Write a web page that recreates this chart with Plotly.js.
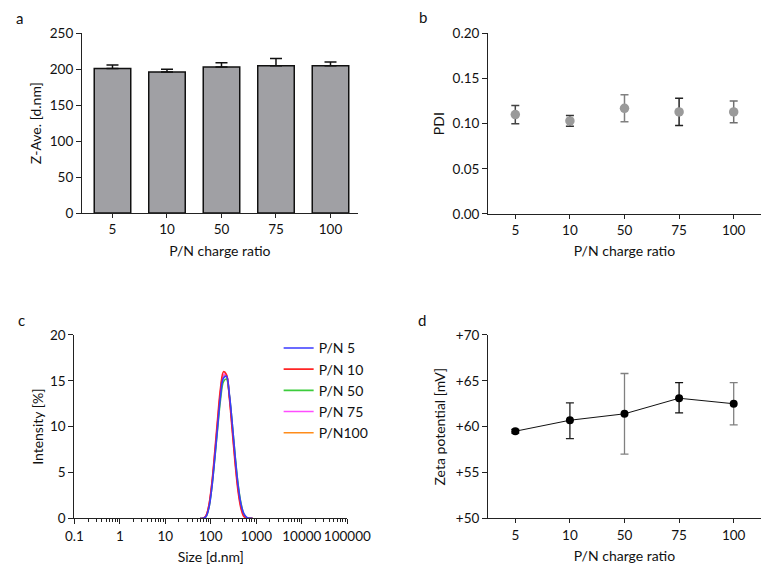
<!DOCTYPE html>
<html>
<head>
<meta charset="utf-8">
<script src="https://cdn.plot.ly/plotly-3.0.1.min.js"></script>
<style>html,body{margin:0;padding:0;background:#fff;}#chart{width:774px;height:574px;}</style>
</head>
<body>
<div id="chart"></div>
<script>
// ---- data ----
const ratios = ['5', '10', '50', '75', '100'];

// (a) Z-average size
const zAve = [201, 196, 203, 205, 205];
const zAveErr = [5, 4, 6, 10, 5];

// (b) PDI
const pdi = [0.110, 0.103, 0.117, 0.113, 0.113];
const pdiErr = [0.010, 0.006, 0.015, 0.015, 0.012];
const pdiErrColors = ['#444444', '#333333', '#808080', '#222222', '#707070'];

// (c) size distribution
const sizeBins = [58.77, 68.06, 78.82, 91.28, 105.7, 122.4, 141.8, 164.2, 190.1, 220.2, 255.0, 295.3, 342.0, 396.1, 458.7, 531.2, 615.1, 712.4, 825.0];
const intPN5   = [0, 0, 0.2, 1.2, 3.4, 6.6, 10.1, 13.4, 15.3, 15.5, 13.6, 10.4, 6.8, 3.7, 1.6, 0.5, 0.1, 0, 0];
const intPN10  = [0, 0, 0.3, 1.5, 3.9, 7.3, 11.0, 14.3, 16.0, 15.7, 13.2, 9.6, 6.0, 3.0, 1.1, 0.2, 0, 0, 0];
const intPN50  = [0, 0, 0.2, 1.2, 3.4, 6.5, 9.9, 13.0, 14.9, 15.2, 13.5, 10.4, 6.9, 3.8, 1.7, 0.5, 0.1, 0, 0];
const intPN75  = [0, 0, 0.3, 1.4, 3.7, 7.0, 10.6, 13.9, 15.7, 15.6, 13.4, 10.0, 6.4, 3.3, 1.3, 0.3, 0, 0, 0];
const intPN100 = [0, 0, 0.3, 1.4, 3.7, 6.9, 10.5, 13.8, 15.6, 15.6, 13.4, 10.0, 6.4, 3.4, 1.4, 0.4, 0, 0, 0];
const seriesNames = ['P/N 5', 'P/N 10', 'P/N 50', 'P/N 75', 'P/N100'];
const seriesColors = ['#3a3aff', '#ff2424', '#3ccc3c', '#ff4dff', '#ff8c1a'];

// (d) zeta potential
const zeta = [59.5, 60.7, 61.4, 63.1, 62.5];
const zetaErrPlus = [0.2, 1.9, 4.4, 1.7, 2.3];
const zetaErrMinus = [0.2, 2.0, 4.4, 1.6, 2.3];
const zetaErrColors = ['#222222', '#222222', '#808080', '#111111', '#808080'];

// ---- traces ----
const FONT = 'Lato, "Liberation Sans", sans-serif';
const traces = [];

traces.push({
  type: 'bar', x: ratios, y: zAve, xaxis: 'x', yaxis: 'y', width: 0.67,
  marker: {color: '#a0a0a4', line: {color: '#111', width: 1.5}},
  error_y: {type: 'data', symmetric: false, array: zAveErr, arrayminus: zAveErr.map(() => 0),
            color: '#111', thickness: 1.5, width: 6},
  showlegend: false, hoverinfo: 'skip'
});

ratios.forEach((r, i) => {
  traces.push({
    type: 'scatter', mode: 'markers', x: [r], y: [pdi[i]], xaxis: 'x2', yaxis: 'y2',
    marker: {color: '#9a9a9a', size: 9.5},
    error_y: {type: 'data', array: [pdiErr[i]], color: pdiErrColors[i], thickness: 1.5, width: 4},
    showlegend: false, hoverinfo: 'skip'
  });
});

const intSeries = [intPN5, intPN10, intPN50, intPN75, intPN100];
for (let i = intSeries.length - 1; i >= 0; i--) {
  traces.push({
    type: 'scatter', mode: 'lines', x: sizeBins, y: intSeries[i], xaxis: 'x3', yaxis: 'y3',
    name: seriesNames[i], line: {color: seriesColors[i], width: 1.6, shape: 'spline'},
    hoverinfo: 'skip'
  });
}

traces.push({
  type: 'scatter', mode: 'lines', x: ratios, y: zeta, xaxis: 'x4', yaxis: 'y4',
  line: {color: '#111', width: 1}, showlegend: false, hoverinfo: 'skip'
});
ratios.forEach((r, i) => {
  traces.push({
    type: 'scatter', mode: 'markers', x: [r], y: [zeta[i]], xaxis: 'x4', yaxis: 'y4',
    marker: {color: '#000', size: 8},
    error_y: {type: 'data', symmetric: false, array: [zetaErrPlus[i]], arrayminus: [zetaErrMinus[i]],
              color: zetaErrColors[i], thickness: 1.3, width: 4},
    showlegend: false, hoverinfo: 'skip'
  });
});

// ---- layout ----
const axBase = {
  showline: true, linecolor: '#222', linewidth: 1, showgrid: false, zeroline: false,
  ticks: 'outside', ticklen: 5, tickcolor: '#222', tickwidth: 1,
  tickfont: {family: FONT, size: 13.5, color: '#111'}, fixedrange: true
};
const titleFont = {family: FONT, size: 14, color: '#111'};

const layout = {
  width: 774, height: 574, margin: {l: 0, r: 0, t: 0, b: 0},
  paper_bgcolor: '#fff', plot_bgcolor: '#fff',
  font: {family: FONT, color: '#111'},
  showlegend: true,
  legend: {x: 0.36, y: 0.421, xanchor: 'left', yanchor: 'top', traceorder: 'reversed',
           font: {family: FONT, size: 14, color: '#111'}, bgcolor: 'rgba(0,0,0,0)', itemwidth: 30},
  xaxis: Object.assign({}, axBase, {domain: [0.1059, 0.4622], anchor: 'y', type: 'category',
    range: [-0.56, 4.5], ticklen: 4, title: {text: 'P/N charge ratio', font: titleFont, standoff: 9}}),
  yaxis: Object.assign({}, axBase, {domain: [0.6289, 0.942], anchor: 'x', range: [0, 250], dtick: 50,
    title: {text: 'Z-Ave. [d.nm]', font: titleFont, standoff: 4}}),
  xaxis2: Object.assign({}, axBase, {domain: [0.6305, 0.9832], anchor: 'y2', type: 'category',
    range: [-0.5, 4.5], ticklen: 4, title: {text: 'P/N charge ratio', font: titleFont, standoff: 9}}),
  yaxis2: Object.assign({}, axBase, {domain: [0.6272, 0.942], anchor: 'x2', range: [0, 0.2], dtick: 0.05,
    tickformat: '.2f', title: {text: 'PDI', font: titleFont, standoff: 4}}),
  xaxis3: Object.assign({}, axBase, {domain: [0.096, 0.4487], anchor: 'y3', type: 'log', range: [-1, 5],
    tickmode: 'linear', dtick: 1, tickformat: '~g', tickangle: 0, ticklen: 5,
    minor: {ticks: 'outside', ticklen: 3, tickcolor: '#222', dtick: 'D1', showgrid: false},
    title: {text: 'Size [d.nm]', font: titleFont, standoff: 9}}),
  yaxis3: Object.assign({}, axBase, {domain: [0.097, 0.4164], anchor: 'x3', range: [0, 20], dtick: 5,
    title: {text: 'Intensity [%]', font: titleFont, standoff: 3}}),
  xaxis4: Object.assign({}, axBase, {domain: [0.6305, 0.9832], anchor: 'y4', type: 'category',
    range: [-0.5, 4.5], ticklen: 4, title: {text: 'P/N charge ratio', font: titleFont, standoff: 9}}),
  yaxis4: Object.assign({}, axBase, {domain: [0.097, 0.4164], anchor: 'x4', range: [50, 70], dtick: 5,
    tickprefix: '+', title: {text: 'Zeta potential [mV]', font: titleFont, standoff: 6}}),
  annotations: [
    {text: 'a', x: 19 / 774, y: 1 - 18 / 574},
    {text: 'b', x: 423 / 774, y: 1 - 17 / 574},
    {text: 'c', x: 21 / 774, y: 1 - 320 / 574},
    {text: 'd', x: 422 / 774, y: 1 - 320 / 574}
  ].map(a => Object.assign(a, {xref: 'paper', yref: 'paper', showarrow: false, xanchor: 'center',
      yanchor: 'middle', font: {family: FONT, size: 15, color: '#111'}}))
};

Plotly.newPlot('chart', traces, layout, {staticPlot: true, displayModeBar: false});
</script>
</body>
</html>
